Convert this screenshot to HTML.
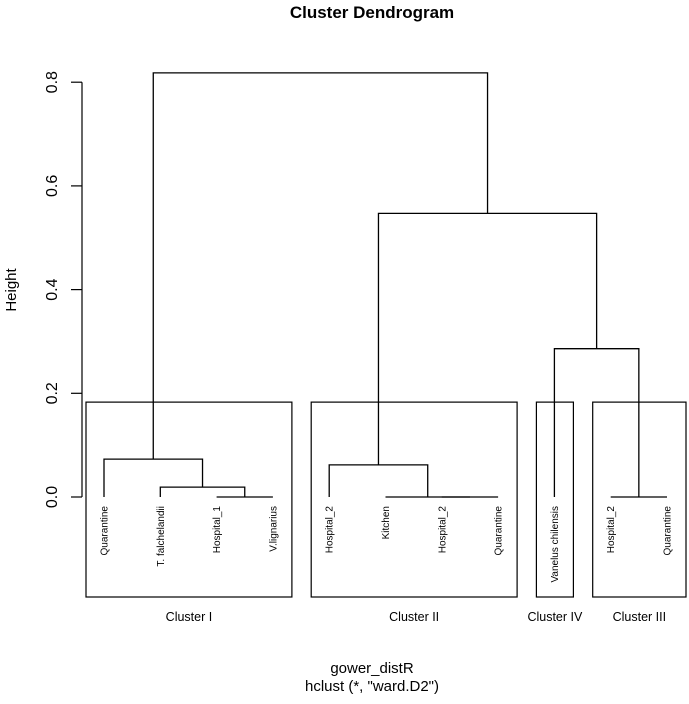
<!DOCTYPE html>
<html><head><meta charset="utf-8"><style>
html,body{margin:0;padding:0;background:#fff;}
svg{display:block;font-family:"Liberation Sans",sans-serif;}
</style></head><body>
<svg id="chart" width="689" height="704" viewBox="0 0 689 704">
<text x="372" y="18" text-anchor="middle" font-weight="bold" font-size="17">Cluster Dendrogram</text>
<g id="yaxis"></g>
<text transform="translate(16,290) rotate(-90)" text-anchor="middle" font-size="15">Height</text>
<g id="tree" stroke="#000" stroke-width="1.3" fill="none"></g>
<g id="labels" font-size="10"></g>
<g id="boxes"></g>
<text x="372" y="673" text-anchor="middle" font-size="15">gower_distR</text>
<text x="372" y="691" text-anchor="middle" font-size="15">hclust (*, "ward.D2")</text>
</svg>
<script>
const leafLabels=["Quarantine","T. falchelandii","Hospital_1","V.lignarius","Hospital_2","Kitchen","Hospital_2","Quarantine","Vanelus chilensis","Hospital_2","Quarantine"];
// merges: [left, right, height]; negative = leaf index (1-based), positive = merge index
const mergeLeft=[-3,-7,-10,-2,-6,-5,-9,-1,6,8];
const mergeRight=[-4,-8,-11,1,2,5,3,4,7,9];
const mergeHeight=[0,0,0,0.019,0.0,0.062,0.286,0.073,0.547,0.818];
const yTicks=[0,0.2,0.4,0.6,0.8];
const clusterNames=["Cluster I","Cluster II","Cluster IV","Cluster III"];
const clusterFirst=[1,5,9,10];
const clusterLast=[4,8,9,11];
const boxHeight=0.183;

const NS="http://www.w3.org/2000/svg";
const y0=497,yScale=518.5;
const Y=v=>y0-v*yScale;
const X=i=>104+(i-1)*56.3;
function mk(tag,attrs,parent,text){const e=document.createElementNS(NS,tag);for(const k in attrs)e.setAttribute(k,attrs[k]);if(text!==undefined)e.textContent=text;parent.appendChild(e);return e;}

const ya=document.getElementById('yaxis');
const axl=mk('line',{x1:82,x2:82,y1:Y(0),y2:Y(0.8),stroke:'#000','stroke-width':1.2},ya);


yTicks.forEach(t=>{
 const tk=mk('line',{x1:71,x2:82,y1:Y(t),y2:Y(t),stroke:'#000','stroke-width':1.2},ya);
 
 
 const tl=mk('text',{transform:`translate(57,${Y(t)}) rotate(-90)`,'text-anchor':'middle','font-size':16},ya,t.toFixed(1));
 
 
});

const tree=document.getElementById('tree');
const pos=[],hgt=[];
function node(id){return id<0?{x:X(-id),h:0}:{x:pos[id-1],h:hgt[id-1]};}
for(let i=0;i<mergeLeft.length;i++){
 const a=node(mergeLeft[i]),b=node(mergeRight[i]),h=mergeHeight[i];
 const ay=mergeLeft[i]<0?y0:Y(a.h), by=mergeRight[i]<0?y0:Y(b.h);
 const p=mk('path',{d:`M${a.x},${ay}V${Y(h)}H${b.x}V${by}`},tree);
 
 
 pos.push((a.x+b.x)/2);hgt.push(h);
}
const lab=document.getElementById('labels');
leafLabels.forEach((s,i)=>{
 const t=mk('text',{transform:`translate(${X(i+1)+3.5},506) rotate(-90)`,'text-anchor':'end'},lab,s);
 
 
});
const bx=document.getElementById('boxes');
clusterNames.forEach((n,i)=>{
 const l=X(clusterFirst[i])-18,r=X(clusterLast[i])+19;
 const rc=mk('rect',{x:l,y:Y(boxHeight),width:r-l,height:597-Y(boxHeight),fill:'none',stroke:'#000','stroke-width':1.2},bx);
 
 
 const t=mk('text',{x:(l+r)/2,y:621,'text-anchor':'middle','font-size':12.5},bx,n);
 
 
});
</script>
</body></html>
